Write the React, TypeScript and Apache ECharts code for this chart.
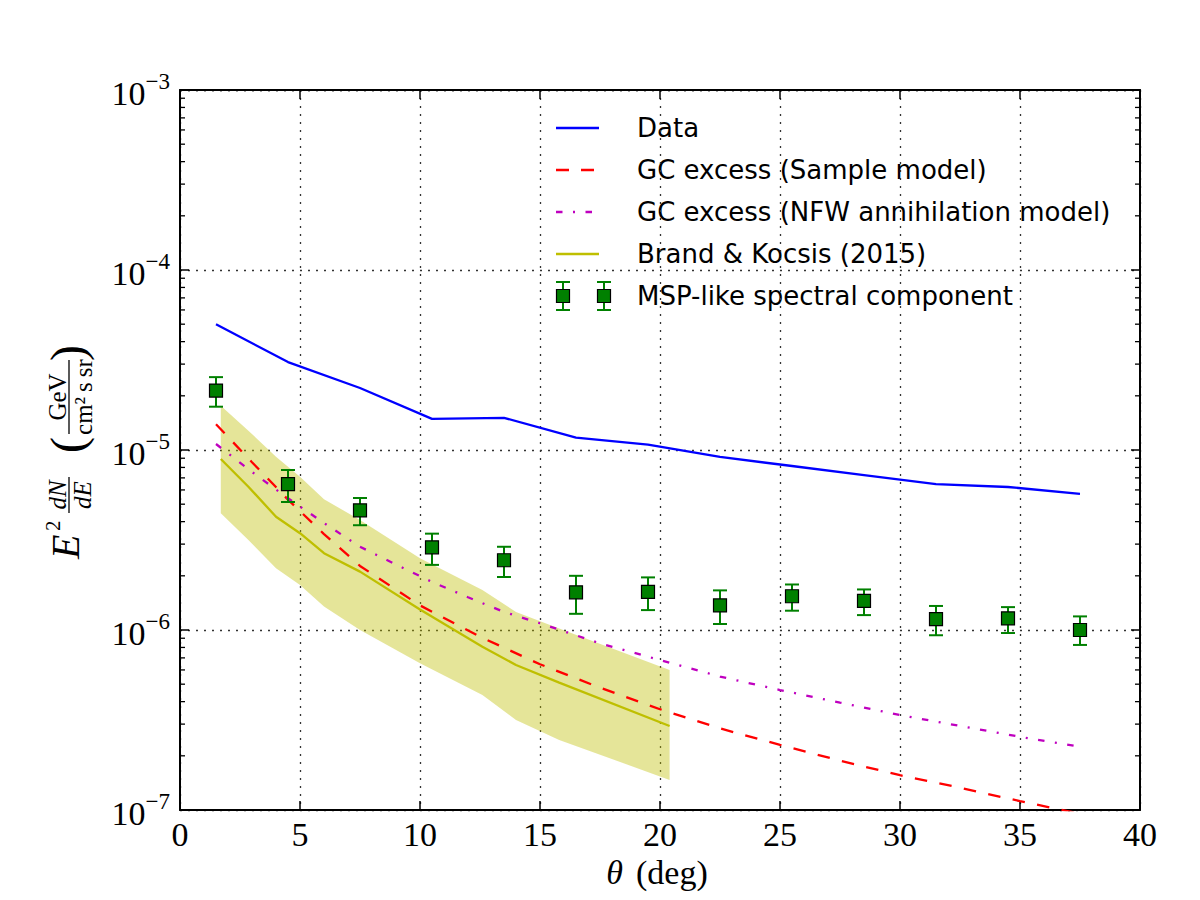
import React, { useEffect, useRef } from 'react';
import * as echarts from 'echarts';

// ---------- data ----------
const thetaBins = [1.5, 4.5, 7.5, 10.5, 13.5, 16.5, 19.5, 22.5, 25.5, 28.5, 31.5, 34.5, 37.5];
const dataFlux = [5.0e-5, 3.08e-5, 2.21e-5, 1.49e-5, 1.51e-5, 1.17e-5, 1.07e-5, 9.15e-6, 8.15e-6, 7.26e-6, 6.47e-6, 6.23e-6, 5.7e-6];

const mspFlux = [2.14e-5, 6.47e-6, 4.62e-6, 2.88e-6, 2.44e-6, 1.62e-6, 1.63e-6, 1.37e-6, 1.54e-6, 1.45e-6, 1.15e-6, 1.16e-6, 1.0e-6];
const mspHigh = [2.54e-5, 7.74e-6, 5.41e-6, 3.43e-6, 2.9e-6, 2.0e-6, 1.96e-6, 1.66e-6, 1.79e-6, 1.68e-6, 1.36e-6, 1.34e-6, 1.19e-6];
const mspLow = [1.74e-5, 5.14e-6, 3.82e-6, 2.3e-6, 1.97e-6, 1.23e-6, 1.29e-6, 1.08e-6, 1.28e-6, 1.21e-6, 9.35e-7, 9.62e-7, 8.26e-7];

const sampleTheta = [1.5, 3, 4.5, 6, 7.5, 10, 12.5, 15, 17.5, 20, 22.5, 25, 27.5, 30, 32.5, 35, 37.4];
const sampleFlux = [1.39e-5, 8.55e-6, 5.3e-6, 3.41e-6, 2.27e-6, 1.37e-6, 9.18e-7, 6.45e-7, 4.78e-7, 3.63e-7, 2.84e-7, 2.3e-7, 1.88e-7, 1.56e-7, 1.33e-7, 1.12e-7, 9.6e-8];

const nfwTheta = [1.5, 3, 4.5, 6, 7.5, 9, 10.5, 12, 13.5, 15, 17.5, 20, 22.5, 25, 27.5, 30, 32.5, 35, 37.3];
const nfwFlux = [1.08e-5, 7.55e-6, 5.39e-6, 3.93e-6, 2.9e-6, 2.31e-6, 1.85e-6, 1.52e-6, 1.26e-6, 1.09e-6, 8.43e-7, 6.81e-7, 5.51e-7, 4.64e-7, 3.95e-7, 3.37e-7, 2.93e-7, 2.55e-7, 2.27e-7];

const bkTheta = [1.7, 2.85, 4.0, 5.0, 6.0, 7.5, 10.0, 12.6, 14.0, 15.8, 20.4];
const bkFlux = [8.91e-6, 6.25e-6, 4.26e-6, 3.45e-6, 2.67e-6, 2.11e-6, 1.3e-6, 8.07e-7, 6.39e-7, 5.1e-7, 2.93e-7];
const bkHigh = [1.76e-5, 1.28e-5, 9.18e-6, 7.11e-6, 5.33e-6, 4.08e-6, 2.5e-6, 1.67e-6, 1.26e-6, 1.02e-6, 6.0e-7];
const bkLow = [4.45e-6, 3.16e-6, 2.2e-6, 1.78e-6, 1.35e-6, 1.0e-6, 6.53e-7, 4.35e-7, 3.16e-7, 2.45e-7, 1.47e-7];

const xTicks = { min: 0, max: 40, step: 5 };
const yDecades = [-7, -6, -5, -4];
const minorMantissas = [2, 3, 4, 5, 6, 7, 8, 9];

const legendLabels = [
  'Data',
  'GC excess (Sample model)',
  'GC excess (NFW annihilation model)',
  'Brand & Kocsis (2015)',
  'MSP-like spectral component',
];

// ---------- styles ----------
const BLUE = '#0000ff';
const RED = '#ff0000';
const MAGENTA = '#bf00bf';
const OLIVE = '#bfbf00';
const GREEN = '#008000';
const SERIF = '"Liberation Serif", "DejaVu Serif", serif';
const SANS = '"DejaVu Sans", sans-serif';
const DASH = [12.5, 12.5];
const DASHDOT = [6.5, 10.5, 2, 10.5];
const LW = 2.3;

export default function App() {
  const ref = useRef<HTMLDivElement>(null);

  useEffect(() => {
    if (!ref.current) return;
    const chart = echarts.init(ref.current, undefined, { renderer: 'svg' });

    const minorTicks: number[] = [];
    yDecades.forEach((e) => minorMantissas.forEach((m) => minorTicks.push(m * Math.pow(10, e))));

    const axisLine = { show: true, onZero: false, lineStyle: { color: '#000', width: 2 } };
    const axisTick = { show: true, inside: true, length: 9, lineStyle: { color: '#000', width: 1.5 } };
    const gridLine = { show: true, lineStyle: { color: '#333', width: 1.3, type: [2, 6] } };

    // legend built from graphic elements
    const rowsY = [128, 170, 212, 254, 296];
    const lx1 = 556;
    const lx2 = 599;
    const tx = 637;
    const legendGraphics: any[] = [];
    const lineStyles = [
      { stroke: BLUE, lineWidth: LW },
      { stroke: RED, lineWidth: LW, lineDash: [13, 12] },
      { stroke: MAGENTA, lineWidth: LW, lineDash: DASHDOT },
      { stroke: OLIVE, lineWidth: LW },
    ];
    lineStyles.forEach((st, i) => {
      legendGraphics.push({
        type: 'line',
        shape: { x1: lx1, y1: rowsY[i], x2: lx2, y2: rowsY[i] },
        style: st,
        silent: true,
      });
    });
    [563, 604].forEach((mx) => {
      const cy = rowsY[4];
      legendGraphics.push({ type: 'line', shape: { x1: mx, y1: cy - 14, x2: mx, y2: cy + 14 }, style: { stroke: GREEN, lineWidth: 2 } });
      legendGraphics.push({ type: 'line', shape: { x1: mx - 7, y1: cy - 14, x2: mx + 7, y2: cy - 14 }, style: { stroke: GREEN, lineWidth: 2 } });
      legendGraphics.push({ type: 'line', shape: { x1: mx - 7, y1: cy + 14, x2: mx + 7, y2: cy + 14 }, style: { stroke: GREEN, lineWidth: 2 } });
      legendGraphics.push({ type: 'rect', shape: { x: mx - 6.5, y: cy - 6.5, width: 13, height: 13 }, style: { fill: GREEN, stroke: '#000', lineWidth: 1.2 } });
    });
    legendLabels.forEach((t, i) => {
      legendGraphics.push({
        type: 'text',
        x: tx,
        y: rowsY[i],
        style: { text: t, fontFamily: SANS, fontSize: 26, fill: '#000', align: 'left', verticalAlign: 'middle' },
        silent: true,
      });
    });

    // y-axis title (rotated group): local x runs upward on screen, local y runs rightward
    const fr = 25;
    const T = (text: string, x: number, y: number, size: number, opts: any = {}) => ({
      type: 'text',
      x,
      y,
      style: { text, fontFamily: SERIF, fontSize: size, fill: '#000', align: 'left', verticalAlign: 'middle', ...opts },
    });
    const yTitle = {
      type: 'group',
      x: 69,
      y: 451,
      rotation: Math.PI / 2,
      silent: true,
      children: [
        T('E', -108, -4, 40, { fontStyle: 'italic' }),
        T('2', -80, -16, 21),
        T('dN', -44, -12, fr, { fontStyle: 'italic', align: 'center' }),
        { type: 'line', shape: { x1: -62, y1: 0, x2: -26, y2: 0 }, style: { stroke: '#000', lineWidth: 1.3 } },
        T('dE', -44, 13, fr, { fontStyle: 'italic', align: 'center' }),
        T('(', -2, -1.5, 48),
        T('GeV', 54, -12, fr, { align: 'center' }),
        { type: 'line', shape: { x1: 17, y1: 0, x2: 91, y2: 0 }, style: { stroke: '#000', lineWidth: 1.3 } },
        T('cm\u00b2\u2009s\u2009sr', 54, 14, fr, { align: 'center' }),
        T(')', 90, -1.5, 48),
      ],
    };

    const xTitle = [
      { type: 'text', x: 623, y: 872, style: { text: '\u03b8', fontFamily: SERIF, fontStyle: 'italic', fontSize: 34, fill: '#000', align: 'right', verticalAlign: 'middle' } },
      { type: 'text', x: 636, y: 872, style: { text: '(deg)', fontFamily: SERIF, fontSize: 34, fill: '#000', align: 'left', verticalAlign: 'middle' } },
    ];

    const option: any = {
      animation: false,
      backgroundColor: '#ffffff',
      grid: { left: 180, right: 60, top: 90, bottom: 90, containLabel: false },
      xAxis: [
        {
          type: 'value',
          min: xTicks.min,
          max: xTicks.max,
          interval: xTicks.step,
          position: 'bottom',
          axisLine,
          axisTick,
          axisLabel: { show: true, margin: 7, fontFamily: SERIF, fontSize: 34, color: '#000' },
          splitLine: gridLine,
        },
        {
          type: 'value',
          min: xTicks.min,
          max: xTicks.max,
          interval: xTicks.step,
          position: 'top',
          axisLine,
          axisTick,
          axisLabel: { show: false },
          splitLine: { show: false },
        },
      ],
      yAxis: [
        {
          type: 'log',
          logBase: 10,
          min: 1e-7,
          max: 1e-3,
          splitNumber: 4,
          position: 'left',
          axisLine,
          axisTick,
          axisLabel: {
            show: true,
            margin: 10,
            showMinLabel: true,
            showMaxLabel: true,
            formatter: (v: number) => {
              const e = Math.round(Math.log10(v));
              return `{b|10}{s|\u2212${-e}}`;
            },
            rich: {
              b: { fontFamily: SERIF, fontSize: 34, lineHeight: 40, verticalAlign: 'bottom', color: '#000' },
              s: { fontFamily: SERIF, fontSize: 23, lineHeight: 23, verticalAlign: 'top', color: '#000' },
            },
          },
          splitLine: gridLine,
        },
        {
          type: 'log',
          logBase: 10,
          min: 1e-7,
          max: 1e-3,
          splitNumber: 4,
          position: 'right',
          axisLine,
          axisTick,
          axisLabel: { show: false },
          splitLine: { show: false },
        },
      ],
      graphic: [yTitle, ...xTitle, ...legendGraphics],
      series: [
        {
          name: 'minor ticks',
          type: 'custom',
          silent: true,
          z: 5,
          data: minorTicks.map((v) => [0, v]),
          encode: { x: 0, y: 1 },
          renderItem: (params: any, api: any) => {
            const v = api.value(1);
            const pL = api.coord([xTicks.min, v]);
            const pR = api.coord([xTicks.max, v]);
            const st = { stroke: '#000', lineWidth: 1.3 };
            return {
              type: 'group',
              children: [
                { type: 'line', shape: { x1: pL[0], y1: pL[1], x2: pL[0] + 5, y2: pL[1] }, style: st },
                { type: 'line', shape: { x1: pR[0] - 5, y1: pR[1], x2: pR[0], y2: pR[1] }, style: st },
              ],
            };
          },
        },
        {
          name: 'band',
          type: 'custom',
          silent: true,
          z: 1,
          data: bkTheta.map((t, i) => [t, bkLow[i], bkHigh[i]]),
          encode: { x: 0, y: [1, 2] },
          renderItem: (params: any, api: any) => {
            if (params.dataIndex !== 0) return null;
            const pts: number[][] = [];
            for (let i = 0; i < bkTheta.length; i++) pts.push(api.coord([bkTheta[i], bkHigh[i]]));
            for (let i = bkTheta.length - 1; i >= 0; i--) pts.push(api.coord([bkTheta[i], bkLow[i]]));
            return { type: 'polygon', shape: { points: pts }, style: { fill: 'rgba(191,191,0,0.4)', stroke: 'none' } };
          },
        },
        {
          name: 'Data',
          type: 'line',
          z: 3,
          symbol: 'none',
          data: thetaBins.map((t, i) => [t, dataFlux[i]]),
          lineStyle: { color: BLUE, width: LW },
        },
        {
          name: 'GC excess (Sample model)',
          type: 'line',
          z: 3,
          symbol: 'none',
          clip: true,
          data: sampleTheta.map((t, i) => [t, sampleFlux[i]]),
          lineStyle: { color: RED, width: LW, type: DASH },
        },
        {
          name: 'GC excess (NFW annihilation model)',
          type: 'line',
          z: 3,
          symbol: 'none',
          data: nfwTheta.map((t, i) => [t, nfwFlux[i]]),
          lineStyle: { color: MAGENTA, width: LW, type: DASHDOT },
        },
        {
          name: 'Brand & Kocsis (2015)',
          type: 'line',
          z: 3,
          symbol: 'none',
          data: bkTheta.map((t, i) => [t, bkFlux[i]]),
          lineStyle: { color: OLIVE, width: LW },
        },
        {
          name: 'errorbars',
          type: 'custom',
          silent: true,
          z: 4,
          data: thetaBins.map((t, i) => [t, mspLow[i], mspHigh[i]]),
          encode: { x: 0, y: [1, 2] },
          renderItem: (params: any, api: any) => {
            const t = api.value(0);
            const lo = api.coord([t, api.value(1)]);
            const hi = api.coord([t, api.value(2)]);
            const st = { stroke: GREEN, lineWidth: 2 };
            return {
              type: 'group',
              children: [
                { type: 'line', shape: { x1: lo[0], y1: lo[1], x2: hi[0], y2: hi[1] }, style: st },
                { type: 'line', shape: { x1: lo[0] - 7, y1: lo[1], x2: lo[0] + 7, y2: lo[1] }, style: st },
                { type: 'line', shape: { x1: hi[0] - 7, y1: hi[1], x2: hi[0] + 7, y2: hi[1] }, style: st },
              ],
            };
          },
        },
        {
          name: 'MSP-like spectral component',
          type: 'scatter',
          z: 6,
          symbol: 'rect',
          symbolSize: 13,
          data: thetaBins.map((t, i) => [t, mspFlux[i]]),
          itemStyle: { color: GREEN, borderColor: '#000', borderWidth: 1.2, opacity: 1 },
        },
      ],
    };

    chart.setOption(option);
    return () => chart.dispose();
  }, []);

  return (
    <div
      ref={ref}
      style={{ position: 'fixed', left: 0, top: 0, width: 1200, height: 900, background: '#fff' }}
    />
  );
}
